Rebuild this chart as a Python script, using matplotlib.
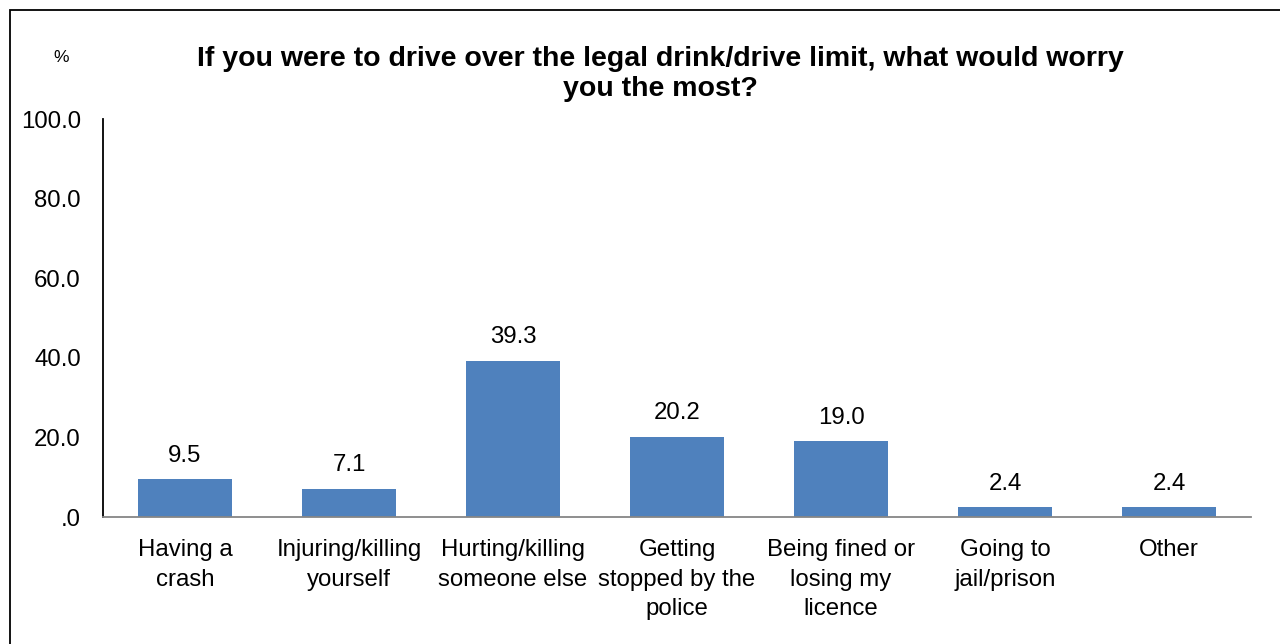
import matplotlib
matplotlib.use("Agg")
import matplotlib.pyplot as plt
from matplotlib.ticker import FuncFormatter
from matplotlib.patches import Rectangle

categories = ["Having a\ncrash", "Injuring/killing\nyourself", "Hurting/killing\nsomeone else",
              "Getting\nstopped by the\npolice", "Being fined or\nlosing my\nlicence",
              "Going to\njail/prison", "Other"]
values = [9.5, 7.1, 39.3, 20.2, 19.0, 2.4, 2.4]
yticks = [0, 20, 40, 60, 80, 100]
title = "If you were to drive over the legal drink/drive limit, what would worry\nyou the most?"

plt.rcParams['font.family'] = ['Liberation Sans', 'DejaVu Sans']

W, H = 1280, 644
fig = plt.figure(figsize=(W/100, H/100), dpi=100)
fig.patches.append(Rectangle((10/W, -0.1), 1.2, 1 - 10/H + 0.1, transform=fig.transFigure,
                             fill=False, edgecolor='black', linewidth=1.3))

ax = fig.add_axes([103/W, 1 - 517/H, (1251-103)/W, (517-119)/H])
x = list(range(len(categories)))
bars = ax.bar(x, values, width=0.57, color='#4F81BD', zorder=2)
ax.set_xlim(-0.5, len(categories) - 0.5)
ax.set_ylim(0, 100)
ax.set_yticks(yticks)
ax.yaxis.set_major_formatter(FuncFormatter(lambda v, p: ".0" if v == 0 else f"{v:.1f}"))
ax.set_xticks(x)
ax.set_xticklabels(categories, fontsize=17.3, linespacing=1.44)
ax.tick_params(axis='y', length=0, labelsize=17.3, pad=16)
ax.tick_params(axis='x', length=0, pad=16)
for s in ['top', 'right']:
    ax.spines[s].set_visible(False)
ax.spines['left'].set_color('black')
ax.spines['left'].set_linewidth(1.3)
ax.spines['bottom'].set_color('#868686')
ax.spines['bottom'].set_linewidth(1.3)

for xi, v in zip(x, values):
    ax.annotate(f"{v:.1f}", (xi, v), xytext=(0, 9), textcoords='offset points',
                ha='center', va='bottom', fontsize=17.3)

fig.text(660/W, 1 - 74/H, title, ha='center', va='center', fontsize=20.5, fontweight='bold',
         linespacing=1.25)
fig.text(61/W, 1 - 58/H, "%", ha='center', va='center', fontsize=12.5)

fig.savefig("out.png", dpi=100)
